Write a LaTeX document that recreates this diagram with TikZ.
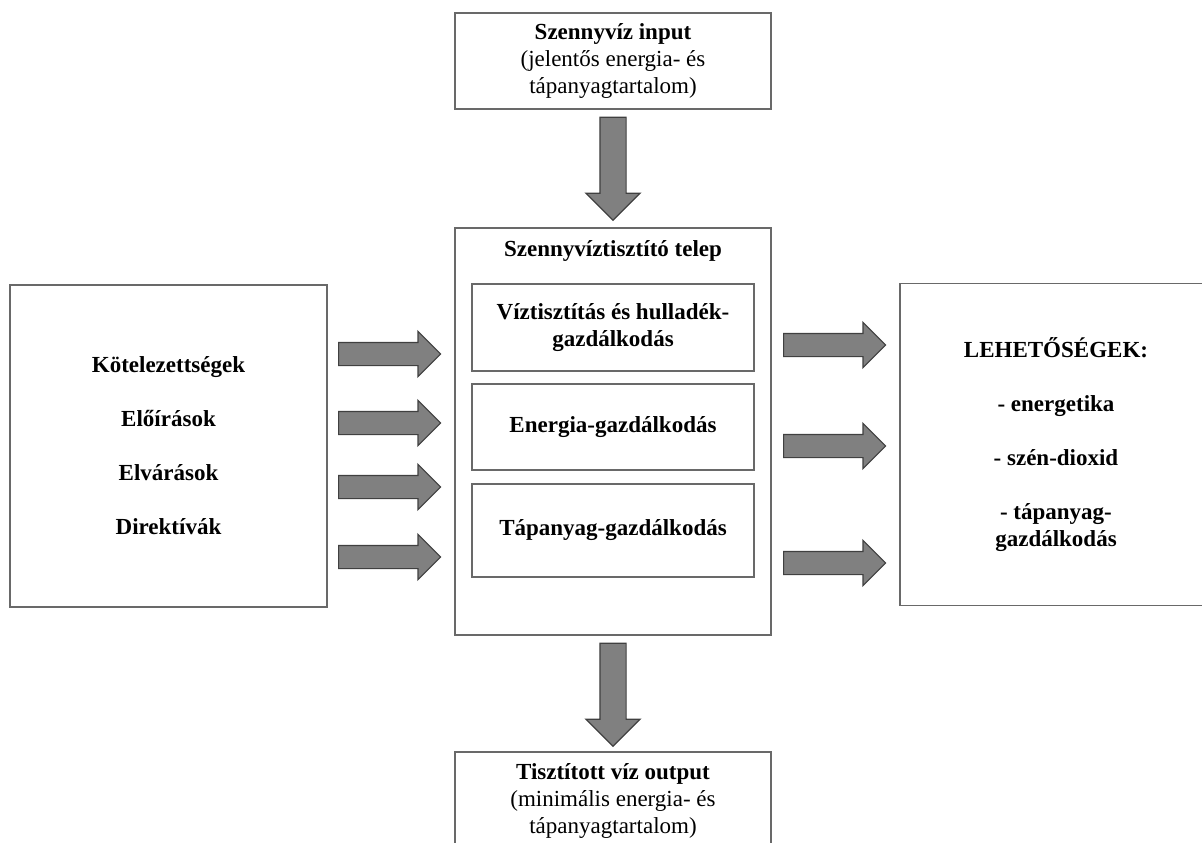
\documentclass[tikz,border=0pt]{standalone}
\usepackage{fontspec}
\setmainfont{Liberation Serif}
\usetikzlibrary{shapes.arrows,calc}

\definecolor{boxline}{RGB}{105,105,105}
\definecolor{arrowfill}{RGB}{128,128,128}
\tikzstyle{box}=[rectangle, draw=boxline, line width=1.3pt, align=center, inner sep=0pt, font=\fontsize{23}{27}\selectfont]

\begin{document}
\begin{tikzpicture}[x=1pt, y=-1pt,
    hfat/.style = {single arrow, draw=black!75, fill=arrowfill, line width=1.2pt, inner xsep=0pt, inner ysep=11pt,
                   minimum height=102pt, single arrow head extend=11pt, anchor=tail},
    vfat/.style = {single arrow, draw=black!75, fill=arrowfill, line width=1.2pt, inner xsep=0pt, inner ysep=12.5pt,
                   minimum height=103pt, single arrow head extend=14pt, rotate=-90, anchor=tail}]
    \useasboundingbox (0,0) rectangle (1202,843);

    % top and bottom
    \node (input) [box, minimum width=316pt, minimum height=96pt] at (613,61)
      {\textbf{Szennyvíz input}\\(jelentős energia- és\\tápanyagtartalom)};
    \node (plant) [box, minimum width=316pt, minimum height=407pt] at (613,431.5) {};
    \node (output) [box, minimum width=316pt, minimum height=98pt] at (613,801)
      {\textbf{Tisztított víz output}\\(minimális energia- és\\tápanyagtartalom)};

    % inside the plant
    \node (title) [font=\fontsize{23}{27}\selectfont\bfseries] at (613,251) {Szennyvíztisztító telep};
    \node (water) [box, font=\fontsize{23}{27}\selectfont\bfseries, minimum width=282pt, minimum height=87pt] at (613,327.5)
      {Víztisztítás és hulladék-\\gazdálkodás};
    \node (energy) [box, font=\fontsize{23}{27}\selectfont\bfseries, minimum width=282pt, minimum height=86pt] at (613,427)
      {Energia-gazdálkodás};
    \node (nutrient) [box, font=\fontsize{23}{27}\selectfont\bfseries, minimum width=282pt, minimum height=93pt] at (613,530.5)
      {Tápanyag-gazdálkodás};

    % sides
    \node (rules) [box, font=\fontsize{23}{27}\selectfont\bfseries, minimum width=317pt, minimum height=322pt] at (168.5,446)
      {Kötelezettségek\\[27pt]Előírások\\[27pt]Elvárások\\[27pt]Direktívák};
    \node (options) [box, font=\fontsize{23}{27}\selectfont\bfseries, minimum width=312pt, minimum height=322pt] at (1056,444.5)
      {LEHETŐSÉGEK:\\[27pt]- energetika\\[27pt]- szén-dioxid\\[27pt]- tápanyag-\\gazdálkodás};

    % fat arrows
    \node (inarrow) [vfat] at ($(input.south)+(0,7)$) {};
    \node (outarrow) [vfat] at ($(plant.south)+(0,7)$) {};
    \foreach \y [count=\i] in {354,423,487,557}
      \node (left\i) [hfat] at (338,\y) {};
    \foreach \y [count=\i] in {345,446,563}
      \node (right\i) [hfat] at (783,\y) {};
\end{tikzpicture}
\end{document}
